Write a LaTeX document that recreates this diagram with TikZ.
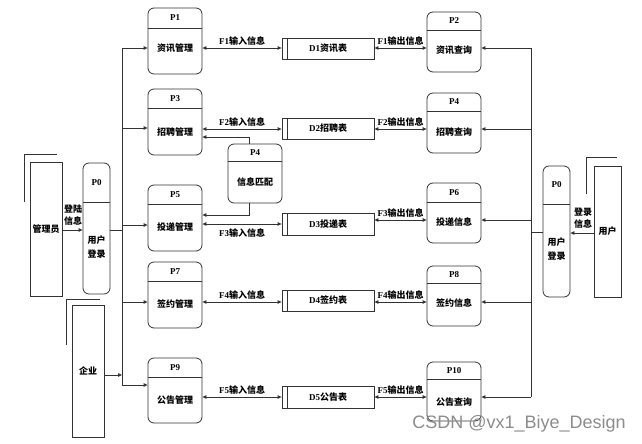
\documentclass[tikz,border=0pt]{standalone}
\usepackage{fontspec}
\setmainfont{Liberation Serif}
\newfontfamily\cjk{Noto Sans CJK SC}
\newfontfamily\wmfont{Liberation Sans}
\usetikzlibrary{arrows.meta,calc}

\tikzset{
  ln/.style={draw=black!80, line width=0.8pt},
  proc/.style={ln, rounded corners=6pt, inner sep=0pt},
  storebox/.style={ln, inner sep=0pt, font=\bfseries\fontsize{9}{10}\selectfont},
  entbox/.style={ln, inner sep=0pt, font=\cjk\bfseries\fontsize{9}{10}\selectfont},
  ttl/.style={font=\bfseries\fontsize{9}{10}\selectfont, inner sep=0pt},
  ptx/.style={font=\cjk\bfseries\fontsize{9}{14}\selectfont, align=center, inner sep=0pt},
  lbl/.style={font=\bfseries\fontsize{9}{10}\selectfont, inner sep=0pt},
  lbl2/.style={font=\cjk\bfseries\fontsize{9}{12}\selectfont, align=center, inner sep=0pt},
  flow/.style={ln, -{Triangle[length=4pt,width=3.5pt]}},
  biflow/.style={ln, {Triangle[length=4pt,width=3.5pt]}-{Triangle[length=4pt,width=3.5pt]}},
}

% name, left, top, right, bottom, header y, title, text y, text
\newcommand\procbox[9]{%
  \node[proc, minimum width={#4-#2}, minimum height={#5-#3}] (#1) at ({(#2+#4)/2},{(#3+#5)/2}) {};
  \draw[ln] (#2,#6) -- (#4,#6);
  \node[ttl] (#1t) at ({(#2+#4)/2},{(#3+#6)/2}) {#7};
  \node[ptx] (#1x) at ({(#2+#4)/2},#8) {#9};
}
% name, top, bottom, latin, cjk
\newcommand\storebox[5]{%
  \node[storebox, minimum width=92, minimum height={#3-#2}] (#1) at (328,{(#2+#3)/2}) {#4{\cjk #5}};
  \draw[ln] (287,#2) -- (287,#3);
}

\begin{document}
\begin{tikzpicture}[x=1pt,y=-1pt]
\useasboundingbox (0,0) rectangle (642,444);

% row coordinates
\coordinate (r1) at (0,48);
\coordinate (r2) at (0,129);
\coordinate (r3) at (0,224);
\coordinate (r3b) at (0,220);
\coordinate (r4) at (0,302);
\coordinate (r5) at (0,397);
\coordinate (q2) at (0,128);
\coordinate (q3) at (0,225);
\coordinate (q5) at (0,385);
\coordinate (a0) at (0,230);
\coordinate (a2) at (0,232);
\coordinate (a3) at (0,233);
\coordinate (e1) at (0,375);
\coordinate (m1) at (0,137);
\coordinate (m2) at (0,215);
\coordinate (LT) at (122,0);
\coordinate (RT) at (531,0);

% processes
\procbox{p1}{148}{8}{202}{74}{28}{P1}{48}{资讯管理}
\procbox{p3}{148}{89}{202}{155}{108}{P3}{132}{招聘管理}
\procbox{p5}{148}{185}{202}{251}{204}{P5}{227}{投递管理}
\procbox{p7}{148}{262}{202}{328}{281}{P7}{304}{签约管理}
\procbox{p9}{148}{358}{202}{423}{377}{P9}{400}{公告管理}

\procbox{p2}{427}{12}{481}{72}{30}{P2}{50}{资讯查询}
\procbox{p4}{427}{93}{481}{153}{111}{P4}{132}{招聘查询}
\procbox{p6}{427}{183}{481}{243}{202}{P6}{222}{投递信息}
\procbox{p8}{427}{266}{481}{326}{283}{P8}{303}{签约信息}
\procbox{p10}{427}{362}{481}{421}{379}{P10}{402}{公告查询}

\procbox{p4m}{228}{144}{282}{203}{161}{P4}{182}{信息匹配}

\procbox{p0l}{83}{163}{110}{294}{202}{P0}{247}{用户\\登录}
\procbox{p0r}{543}{166}{570}{297}{204}{P0}{249.5}{用户\\登录}

% data stores
\storebox{d1}{38}{59}{D1}{资讯表}
\storebox{d2}{118}{139}{D2}{招聘表}
\storebox{d3}{213}{235}{D3}{投递表}
\storebox{d4}{290}{311}{D4}{签约表}
\storebox{d5}{386}{408}{D5}{公告表}

% external entities
\node[entbox, minimum width=32, minimum height=134] (adm) at (46,229) {管理员};
\draw[ln] (24,202) -- (24,154) -- (57,154);
\node[entbox, minimum width=32, minimum height=132] (ent) at (88,371) {企业};
\draw[ln] (66,345) -- (66,299) -- (100,299);
\node[entbox, minimum width=27, minimum height=131] (usr) at (607.5,231.5) {用户};
\draw[ln] (586,194) -- (586,157) -- (617,157);

% left trunk
\draw[ln] (LT |- r1) -- (LT |- q5);
\draw[flow] (LT |- r1) -- (p1.west |- r1);
\draw[flow] (LT |- q2) -- (p3.west |- q2);
\draw[flow] (LT |- q3) -- (p5.west |- q3);
\draw[flow] (LT |- r4) -- (p7.west |- r4);
\draw[flow] (LT |- q5) -- (p9.west |- q5);
\draw[ln] (p0l.east |- a0) -- (LT |- a0);
\draw[flow] (ent.east |- e1) -- (LT |- e1);
\draw[flow] (adm.east |- a0) -- (p0l.west |- a0);
\node[lbl2] (lg1) at (73,215.5) {登陆\\信息};

% right trunk
\draw[ln] (RT |- r1) -- (RT |- r5);
\draw[flow] (RT |- r1) -- (p2.east |- r1);
\draw[flow] (RT |- r2) -- (p4.east |- r2);
\draw[flow] (RT |- r3b) -- (p6.east |- r3b);
\draw[flow] (RT |- r4) -- (p8.east |- r4);
\draw[flow] (RT |- r5) -- (p10.east |- r5);
\draw[ln] (p0r.west |- a2) -- (RT |- a2);
\draw[flow] (usr.west |- a3) -- (p0r.east |- a3);
\node[lbl2] (lg2) at (583,218.5) {登录\\信息};

% flows to/from stores
\draw[biflow] (p1.east |- r1) -- node[lbl, above=2pt] (f1i) {F1{\cjk 输入信息}} (d1.west |- r1);
\draw[biflow] (d1.east |- r1) -- node[lbl, above=2pt] (f1o) {F1{\cjk 输出信息}} (p2.west |- r1);
\draw[biflow] (p3.east |- r2) -- node[lbl, above=2pt] (f2i) {F2{\cjk 输入信息}} (d2.west |- r2);
\draw[biflow] (d2.east |- r2) -- node[lbl, above=2pt] (f2o) {F2{\cjk 输出信息}} (p4.west |- r2);
\draw[biflow] (p5.east |- r3) -- node[lbl, below=4pt] (f3i) {F3{\cjk 输入信息}} (d3.west |- r3);
\draw[biflow] (d3.east |- r3b) -- node[lbl, above=2pt] (f3o) {F3{\cjk 输出信息}} (p6.west |- r3b);
\draw[biflow] (p7.east |- r4) -- node[lbl, above=2pt] (f4i) {F4{\cjk 输入信息}} (d4.west |- r4);
\draw[biflow] (d4.east |- r4) -- node[lbl, above=2pt] (f4o) {F4{\cjk 输出信息}} (p8.west |- r4);
\draw[biflow] (p9.east |- r5) -- node[lbl, above=2pt] (f5i) {F5{\cjk 输入信息}} (d5.west |- r5);
\draw[biflow] (d5.east |- r5) -- node[lbl, above=2pt] (f5o) {F5{\cjk 输出信息}} (p10.west |- r5);

% matching feedback
\coordinate (mt) at ($(p4m.north)+(-6,0)$);
\coordinate (mb) at ($(p4m.south)+(-6,0)$);
\draw[flow] (mt) |- (p3.east |- m1);
\draw[flow] (mb) |- (p5.east |- m2);

% watermark
\node[font=\wmfont\fontsize{18}{18}\selectfont, text=black!45, inner sep=0pt] (wm) at (519,424) {CSDN @vx1\_Biye\_Design};
\end{tikzpicture}
\end{document}
